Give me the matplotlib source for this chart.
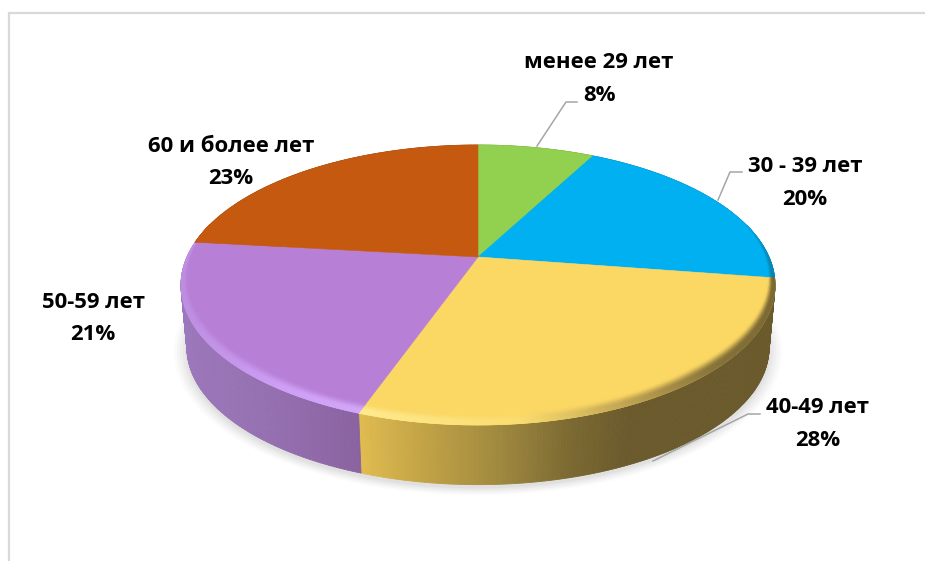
import numpy as np
import matplotlib
matplotlib.use("Agg")
import matplotlib.pyplot as plt
from matplotlib.collections import PolyCollection
from matplotlib.colors import to_rgb

# Dados
categorias = ["менее 29 лет", "30 - 39 лет", "40-49 лет", "50-59 лет", "60 и более лет"]
valores = [7.7, 19.7, 28.0, 21.4, 23.2]

cores = ["#92D050", "#00B0F0", "#FBD764", "#B780D6", "#C5590F"]

# degradê da parede lateral: (x em pixels, cor)
lateral = [
    [(400, "#6F9E3C"), (600, "#6F9E3C")],
    [(600, "#0A7FA8"), (780, "#0A7FA8")],
    [(360, "#E0BC50"), (420, "#C4A446"), (500, "#A0893F"), (570, "#7C6A32"), (630, "#6B5A2C"), (780, "#6B5A2C")],
    [(180, "#9C78BC"), (270, "#9570B0"), (360, "#8A62A0")],
    [(150, "#94511A"), (200, "#94511A")],
]
# cor da borda chanfrada
borda = [
    [(400, "#92D050"), (600, "#92D050")],
    [(600, "#00B0F0"), (740, "#00B0F0"), (780, "#0A7FA8")],
    [(360, "#FFEA8E"), (520, "#FBDD70"), (620, "#C4A855"), (720, "#85723A"), (780, "#7A6833")],
    [(180, "#BE8EE2"), (280, "#CFA0F6"), (360, "#D4A8FA")],
    [(150, "#C5590F"), (200, "#C5590F")],
]

# Geometria da pizza em pixels
cx, cy = 478, 257
rx, ry = 291, 134.4
k = 0.2
prof = 63
esc_base = 0.98


def projeta(ang, r=1.0):
    u = r * np.sin(ang)
    v = r * np.cos(ang)
    s = 1 / (1 + k * v)
    return rx * u * s, -ry * v * s


def cor_em(paradas, x):
    xs = [p[0] for p in paradas]
    rgb = np.array([to_rgb(p[1]) for p in paradas])
    return [np.interp(x, xs, rgb[:, i]) for i in range(3)]


fig = plt.figure(figsize=(9.25, 5.61), dpi=100)
ax = fig.add_axes([0, 0, 1, 1])
ax.set_xlim(0, 925)
ax.set_ylim(561, 0)
ax.axis("off")

# Moldura (aberta à direita e embaixo)
ax.plot([9, 9, 925], [561, 13, 13], color="#D9D9D9", lw=1.6, solid_joinstyle="miter", zorder=1)

limites = np.cumsum([0] + valores) / sum(valores) * 2 * np.pi

# Sombra suave
t = np.linspace(0, 2 * np.pi, 361)
px, py = projeta(t)
for esp, alfa in zip([1.045, 1.035, 1.025, 1.015, 1.005], [0.025, 0.03, 0.035, 0.04, 0.05]):
    ax.fill(cx + esc_base * esp * px, cy + prof + 3 + esc_base * esp * py, color="#555555", alpha=alfa, lw=0, zorder=2)

# Parede lateral
for i in range(len(valores)):
    angs = np.arange(limites[i], limites[i + 1] + 0.004, np.radians(0.5))
    angs = np.append(angs[angs < limites[i + 1]], limites[i + 1])
    x0, y0 = projeta(angs)
    quads, cs = [], []
    for j in range(len(angs) - 1):
        quads.append([
            (cx + x0[j], cy + y0[j]), (cx + x0[j + 1], cy + y0[j + 1]),
            (cx + esc_base * x0[j + 1], cy + prof + esc_base * y0[j + 1]),
            (cx + esc_base * x0[j], cy + prof + esc_base * y0[j]),
        ])
        cs.append(cor_em(lateral[i], cx + x0[j]))
    ax.add_collection(PolyCollection(quads, facecolors=cs, edgecolors=cs, linewidths=0.6, zorder=3))

# Face de cima
for i in range(len(valores)):
    angs = np.linspace(limites[i], limites[i + 1], 200)
    x0, y0 = projeta(angs)
    ax.fill(np.r_[cx, cx + x0], np.r_[cy, cy + y0], color=cores[i], lw=0.4, zorder=4)

# Chanfro na borda da frente
passos = np.linspace(0, 1, 9)
for i in range(len(valores)):
    angs = np.arange(limites[i], limites[i + 1] + 0.004, np.radians(0.5))
    angs = np.append(angs[angs < limites[i + 1]], limites[i + 1])
    base = np.array(to_rgb(cores[i]))
    quads, cs = [], []
    for j in range(len(angs) - 1):
        m = 0.5 * (angs[j] + angs[j + 1])
        frente = np.clip(-np.cos(m) + 0.25, 0, 1)  # some na parte de trás
        if frente <= 0:
            continue
        xm, _ = projeta(m)
        topo = np.array(cor_em(borda[i], cx + xm))
        for a, b in zip(passos[:-1], passos[1:]):
            ra = 1 - 0.055 * (1 - a) * frente
            rb = 1 - 0.055 * (1 - b) * frente
            xa0, ya0 = projeta(angs[j], ra)
            xa1, ya1 = projeta(angs[j + 1], ra)
            xb0, yb0 = projeta(angs[j], rb)
            xb1, yb1 = projeta(angs[j + 1], rb)
            quads.append([(cx + xa0, cy + ya0), (cx + xa1, cy + ya1), (cx + xb1, cy + yb1), (cx + xb0, cy + yb0)])
            peso = np.sin(min(1, 0.5 * (a + b) * 1.35) * np.pi / 2) ** 2
            c = base + (topo - base) * peso
            cs.append(c)
    if quads:
        ax.add_collection(PolyCollection(quads, facecolors=cs, edgecolors=cs, linewidths=0.5, zorder=5))

# Linhas de chamada
linhas = [
    ([537, 566, 577], [146, 102, 102]),
    ([718, 730, 742], [200, 172, 172]),
    ([653, 748, 760], [461, 414, 414]),
]
for lx, ly in linhas:
    ax.plot(lx, ly, color="#A6A6A6", lw=1.1, zorder=6)

# Rótulos
pos_x = [599, 805, 818, 93, 231]
pos_nome = [62, 166, 407, 302, 146]
pos_pct = [95, 199, 440, 334, 178]
for i in range(len(valores)):
    ax.text(pos_x[i], pos_nome[i], categorias[i], ha="center", va="center",
            family="Open Sans", weight="bold", fontsize=15.9, color="black", zorder=7)
    ax.text(pos_x[i], pos_pct[i], f"{valores[i]:.0f}%", ha="center", va="center",
            family="Open Sans", weight="bold", fontsize=15.9, color="black", zorder=7)

fig.savefig("out.png", dpi=100)
